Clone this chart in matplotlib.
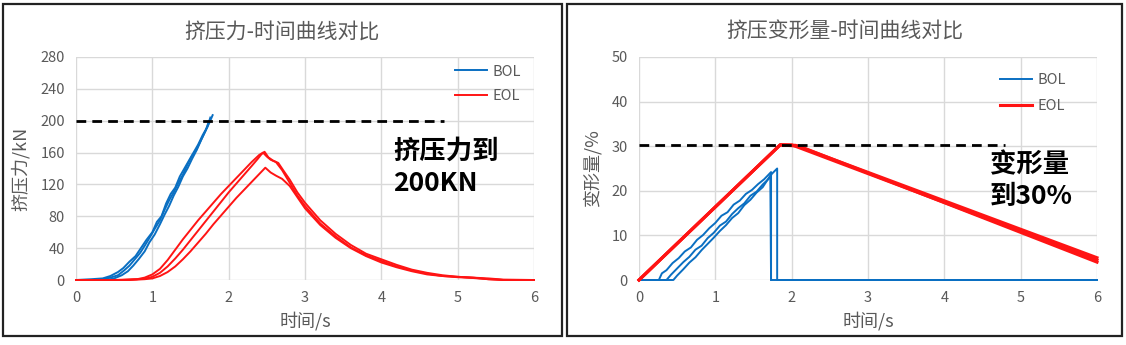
import matplotlib
matplotlib.use("Agg")
import matplotlib.pyplot as plt
from matplotlib.patches import Rectangle

plt.rcParams['font.family'] = ['Noto Sans CJK SC', 'DejaVu Sans']

## Colours
BLUE = '#0a6fc2'
RED = '#ff1414'
GRAY = '#595959'

## Left chart: force (kN) vs time (s)
bol_f1_t = [0, 0.2, 0.35, 0.45, 0.55, 0.62, 0.7, 0.78, 0.85, 0.92, 1.0, 1.06, 1.12, 1.18,
            1.24, 1.3, 1.36, 1.42, 1.48, 1.54, 1.6, 1.66, 1.72, 1.76]
bol_f1_v = [0, 1, 2, 5, 10, 15, 23, 30, 40, 50, 60, 73, 80, 96,
            108, 116, 130, 140, 150, 160, 170, 182, 192, 204]
bol_f2_t = [0, 0.3, 0.45, 0.55, 0.63, 0.7, 0.77, 0.84, 0.9, 0.97, 1.03, 1.1, 1.16, 1.22,
            1.28, 1.34, 1.4, 1.46, 1.52, 1.58, 1.64, 1.7, 1.75, 1.79]
bol_f2_v = [0, 0, 3, 6, 12, 18, 26, 34, 43, 54, 64, 75, 88, 100,
            110, 122, 132, 145, 156, 164, 176, 188, 198, 207]
bol_f3_t = [0, 0.4, 0.5, 0.6, 0.68, 0.75, 0.82, 0.9, 0.96, 1.03, 1.1, 1.16, 1.22, 1.28,
            1.34, 1.4, 1.46, 1.52, 1.58, 1.64, 1.7, 1.74]
bol_f3_v = [0, 0, 2, 6, 11, 18, 26, 36, 47, 57, 70, 82, 93, 106,
            117, 130, 140, 152, 163, 176, 188, 199]

eol_f1_t = [0, 0.5, 0.8, 0.9, 1.0, 1.1, 1.2, 1.3, 1.4, 1.5, 1.6, 1.7, 1.8, 1.9, 2.0, 2.1,
            2.2, 2.3, 2.4, 2.45, 2.5, 2.55, 2.62, 2.7, 2.8, 2.9, 3.0, 3.2, 3.4, 3.6, 3.8,
            4.0, 4.2, 4.4, 4.6, 4.8, 5.0, 5.2, 5.4, 5.6, 6.0]
eol_f1_v = [0, 0, 1, 3, 7, 14, 25, 38, 51, 63, 75, 86, 97, 108, 118, 128,
            138, 148, 157, 160, 155, 151, 148, 138, 122, 106, 93, 71, 55, 41, 31,
            24, 17, 12, 8, 5, 4, 3, 1, 0, 0]
eol_f2_t = [0, 0.6, 0.9, 1.0, 1.1, 1.2, 1.3, 1.4, 1.5, 1.6, 1.7, 1.8, 1.9, 2.0, 2.1, 2.2,
            2.3, 2.38, 2.43, 2.47, 2.52, 2.58, 2.65, 2.72, 2.8, 2.9, 3.0, 3.2, 3.4, 3.6,
            3.8, 4.0, 4.2, 4.4, 4.6, 4.8, 5.0, 5.2, 5.4, 5.6, 6.0]
eol_f2_v = [0, 0, 1.5, 4, 9, 17, 27, 38, 50, 62, 74, 86, 98, 110, 121, 132,
            143, 152, 158, 161, 154, 150, 147, 137, 126, 110, 97, 75, 58, 44,
            33, 26, 19, 13, 9, 6, 4, 3, 2, 0.5, 0]
eol_f3_t = [0, 0.7, 0.9, 1.0, 1.1, 1.2, 1.3, 1.4, 1.5, 1.6, 1.7, 1.8, 1.9, 2.0, 2.1, 2.2,
            2.3, 2.4, 2.48, 2.55, 2.62, 2.7, 2.8, 2.9, 3.0, 3.2, 3.4, 3.6, 3.8, 4.0,
            4.2, 4.4, 4.6, 4.8, 5.0, 5.2, 5.4, 5.6, 6.0]
eol_f3_v = [0, 0, 1, 2, 5, 10, 17, 26, 36, 47, 58, 70, 81, 92, 103, 113,
            123, 133, 141, 135, 131, 127, 118, 104, 90, 69, 53, 40, 30, 22,
            16, 11, 7, 5, 3.5, 2.5, 1, 0, 0]

## Right chart: deformation (%) vs time (s)
bol_d1_t = [0, 0.26, 0.3, 0.36, 0.44, 0.52, 0.6, 0.68, 0.76, 0.84, 0.92, 1.0, 1.08, 1.16,
            1.24, 1.32, 1.4, 1.48, 1.56, 1.64, 1.73, 1.73, 6.0]
bol_d1_v = [0, 0, 1.5, 2.2, 3.8, 4.9, 6.4, 7.3, 9.0, 10.1, 11.6, 12.8, 14.4, 15.2,
            16.9, 17.8, 19.3, 20.2, 21.5, 22.6, 24.2, 0, 0]
bol_d2_t = [0, 0.36, 0.42, 0.5, 0.58, 0.66, 0.74, 0.82, 0.9, 0.98, 1.06, 1.14, 1.22, 1.3,
            1.38, 1.46, 1.54, 1.62, 1.7, 1.74, 1.81, 1.81, 6.0]
bol_d2_v = [0, 0, 1.2, 2.6, 4.0, 5.2, 6.8, 7.7, 9.4, 10.6, 12.2, 13.1, 14.8, 16.1,
            17.2, 18.9, 19.8, 21.4, 22.7, 23.8, 25.0, 0, 0]
bol_d3_t = [0, 0.45, 0.5, 0.58, 0.66, 0.74, 0.82, 0.9, 0.98, 1.06, 1.14, 1.22, 1.3, 1.38,
            1.46, 1.54, 1.62, 1.72, 1.73]
bol_d3_v = [0, 0, 1.0, 2.4, 3.9, 5.1, 6.7, 8.1, 9.5, 11.0, 12.3, 13.9, 15.0, 16.8,
            18.0, 19.6, 20.8, 23.4, 0]

eol_d1_t = [0, 1.85, 2.0, 6.0]
eol_d1_v = [0, 30.3, 30.3, 4.5]
eol_d2_t = [0, 1.85, 2.05, 6.0]
eol_d2_v = [0, 30.3, 30.2, 5.0]
eol_d3_t = [0, 1.85, 2.1, 6.0]
eol_d3_v = [0, 30.3, 30.0, 4.0]

force_limit = 200
deform_limit = 30.3

force_ticks = [0, 40, 80, 120, 160, 200, 240, 280]
deform_ticks = [0, 10, 20, 30, 40, 50]
time_ticks = [0, 1, 2, 3, 4, 5, 6]


def style_axes(ax, yticks):
    ax.set_xlim(0, 6)
    ax.set_ylim(yticks[0], yticks[-1])
    ax.set_xticks(time_ticks)
    ax.set_yticks(yticks)
    ax.grid(True, color='#d9d9d9', linewidth=1)
    ax.set_axisbelow(True)
    for s in ax.spines.values():
        s.set_visible(False)
    ax.tick_params(length=0, labelsize=10.5, labelcolor=GRAY, pad=8)


fig = plt.figure(figsize=(11.26, 3.45), dpi=100)

## Panel borders
fig.patches.append(Rectangle((3 / 1126, 9 / 345), 559 / 1126, 332 / 345, transform=fig.transFigure,
                             fill=False, edgecolor='#222222', linewidth=1.6))
fig.patches.append(Rectangle((567 / 1126, 9 / 345), 555 / 1126, 332 / 345, transform=fig.transFigure,
                             fill=False, edgecolor='#222222', linewidth=1.6))

## Left chart
ax1 = fig.add_axes([76 / 1126, 65 / 345, 458 / 1126, 223 / 345])
style_axes(ax1, force_ticks)
lw = 1.4
ax1.plot(bol_f1_t, bol_f1_v, color=BLUE, lw=lw, label='BOL', clip_on=False)
ax1.plot(bol_f2_t, bol_f2_v, color=BLUE, lw=lw, clip_on=False)
ax1.plot(bol_f3_t, bol_f3_v, color=BLUE, lw=lw, clip_on=False)
ax1.plot(eol_f1_t, eol_f1_v, color=RED, lw=lw, label='EOL', clip_on=False)
ax1.plot(eol_f2_t, eol_f2_v, color=RED, lw=lw, clip_on=False)
ax1.plot(eol_f3_t, eol_f3_v, color=RED, lw=lw, clip_on=False)
ax1.plot([0, 4.82], [force_limit, force_limit], color='black', lw=2, dashes=[3.5, 2.2])
ax1.set_xlabel('时间/s', fontsize=13, color=GRAY)
ax1.set_ylabel('挤压力/kN', fontsize=13, color=GRAY)
ax1.xaxis.set_label_coords(0.5, -0.14)
ax1.yaxis.set_label_coords(-0.10, 0.5)
ax1.legend(loc='upper right', bbox_to_anchor=(1.0, 1.025), frameon=False, fontsize=10.5,
           handlelength=2.2, handletextpad=0.35, labelspacing=0.7, labelcolor=GRAY)
ax1.text(0.692, 0.64, '挤压力到\n200KN', transform=ax1.transAxes, fontsize=19,
         fontweight='bold', va='top', ha='left', linespacing=1.25)
fig.text(282 / 1126, 1 - 32 / 345, '挤压力-时间曲线对比', ha='center', va='center',
         fontsize=15, color=GRAY)

## Right chart
ax2 = fig.add_axes([639 / 1126, 65 / 345, 458 / 1126, 223 / 345])
style_axes(ax2, deform_ticks)
ax2.plot(bol_d1_t, bol_d1_v, color=BLUE, lw=lw, label='BOL', clip_on=False)
ax2.plot(bol_d2_t, bol_d2_v, color=BLUE, lw=lw, clip_on=False)
ax2.plot(bol_d3_t, bol_d3_v, color=BLUE, lw=lw, clip_on=False)
ax2.plot(eol_d1_t, eol_d1_v, color=RED, lw=2.2, label='EOL', clip_on=False)
ax2.plot(eol_d2_t, eol_d2_v, color=RED, lw=2.2, clip_on=False)
ax2.plot(eol_d3_t, eol_d3_v, color=RED, lw=2.2, clip_on=False)
ax2.plot([0, 4.8], [deform_limit, deform_limit], color='black', lw=2, dashes=[3.5, 2.2])
ax2.set_xlabel('时间/s', fontsize=13, color=GRAY)
ax2.set_ylabel('变形量/%', fontsize=13, color=GRAY)
ax2.xaxis.set_label_coords(0.5, -0.14)
ax2.yaxis.set_label_coords(-0.081, 0.5)
ax2.legend(loc='upper right', bbox_to_anchor=(0.96, 0.985), frameon=False, fontsize=10.5,
           handlelength=2.2, handletextpad=0.35, labelspacing=0.8, labelcolor=GRAY)
ax2.text(0.766, 0.575, '变形量\n到30%', transform=ax2.transAxes, fontsize=19,
         fontweight='bold', va='top', ha='left', linespacing=1.2)
fig.text(845 / 1126, 1 - 32 / 345, '挤压变形量-时间曲线对比', ha='center', va='center',
         fontsize=15, color=GRAY)

fig.savefig('out.png', dpi=100)
